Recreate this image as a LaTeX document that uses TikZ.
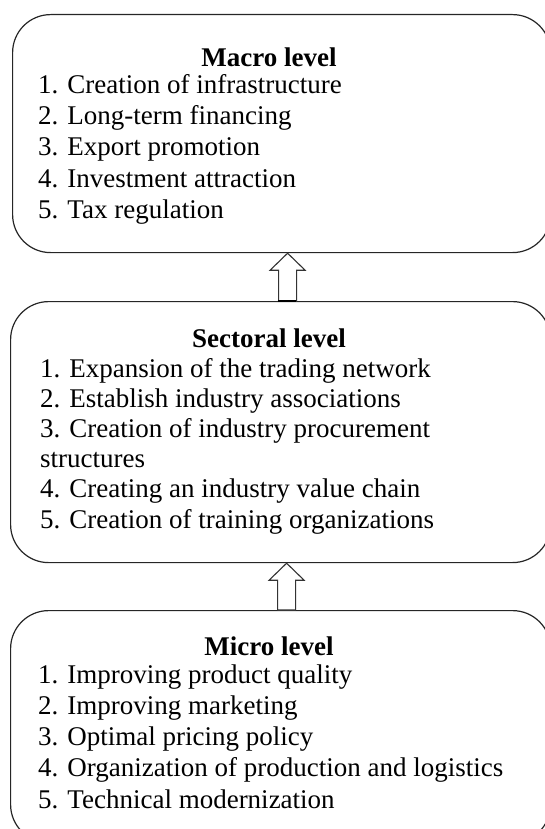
\documentclass[tikz,border=0pt]{standalone}
\usepackage{fontspec}
\setmainfont{Liberation Serif}
\usetikzlibrary{calc}
\tikzset{
  levelbox/.style={draw=black!85, line width=1.2pt, rounded corners=38pt, fill=white},
  titletext/.style={anchor=base, inner sep=0pt, font=\fontsize{27}{31}\selectfont\bfseries},
  itemtext/.style={anchor=base west, inner sep=0pt, font=\fontsize{27}{31}\selectfont},
  hollow/.style={draw=black!80, line width=1.1pt, fill=white, line join=miter}
}
\begin{document}
\begin{tikzpicture}[x=1pt,y=-1pt]
\useasboundingbox (0,0) rectangle (545,829);
% boxes
\node[levelbox, minimum width=538pt, minimum height=238pt, anchor=north west] (b1) at (12,14) {};
\node[levelbox, minimum width=540pt, minimum height=261pt, anchor=north west] (b2) at (10,301) {};
\node[levelbox, minimum width=540pt, minimum height=232pt, anchor=north west] (b3) at (10,610) {};
% hollow arrows
\draw[hollow] let \p1=($(b1.south)+(6,0)$), \p2=($(b2.north)+(6,0)$) in
  (\x1,\y1) -- (\x1+17.5pt,\y1-17pt) -- (\x1+9pt,\y1-17pt) -- (\x1+9pt,\y2)
  -- (\x1-9pt,\y2) -- (\x1-9pt,\y1-17pt) -- (\x1-17.5pt,\y1-17pt) -- cycle;
\draw[hollow] let \p1=($(b2.south)+(6,0)$), \p2=($(b3.north)+(6,0)$) in
  (\x1,\y1) -- (\x1+17.5pt,\y1-17pt) -- (\x1+9pt,\y1-17pt) -- (\x1+9pt,\y2)
  -- (\x1-9pt,\y2) -- (\x1-9pt,\y1-17pt) -- (\x1-17.5pt,\y1-17pt) -- cycle;
\draw[black, line width=2.2pt] ($(b2.north)+(-3,0)$) -- ($(b2.north)+(15,0)$);
% macro
\node[titletext] (t1) at (269,67) {Macro level};
\foreach \s [count=\i] in {1. Creation of infrastructure, 2. Long-term financing, 3. Export promotion, 4. Investment attraction, 5. Tax regulation}
  \node[itemtext] (ma\i) at (38,{94+31*(\i-1)}) {\s};
% sectoral
\node[titletext] (t2) at (269,347) {Sectoral level};
\foreach \s [count=\i] in {1. Expansion of the trading network, 2. Establish industry associations, 3. Creation of industry procurement, structures, 4. Creating an industry value chain, 5. Creation of training organizations}
  \node[itemtext] (se\i) at (40,{377+30.2*(\i-1)}) {\s};
% micro
\node[titletext] (t3) at (269,655) {Micro level};
\foreach \s [count=\i] in {1. Improving product quality, 2. Improving marketing, 3. Optimal pricing policy, 4. Organization of production and logistics, 5. Technical modernization}
  \node[itemtext] (mi\i) at (38,{683+31.25*(\i-1)}) {\s};
\end{tikzpicture}
\end{document}
